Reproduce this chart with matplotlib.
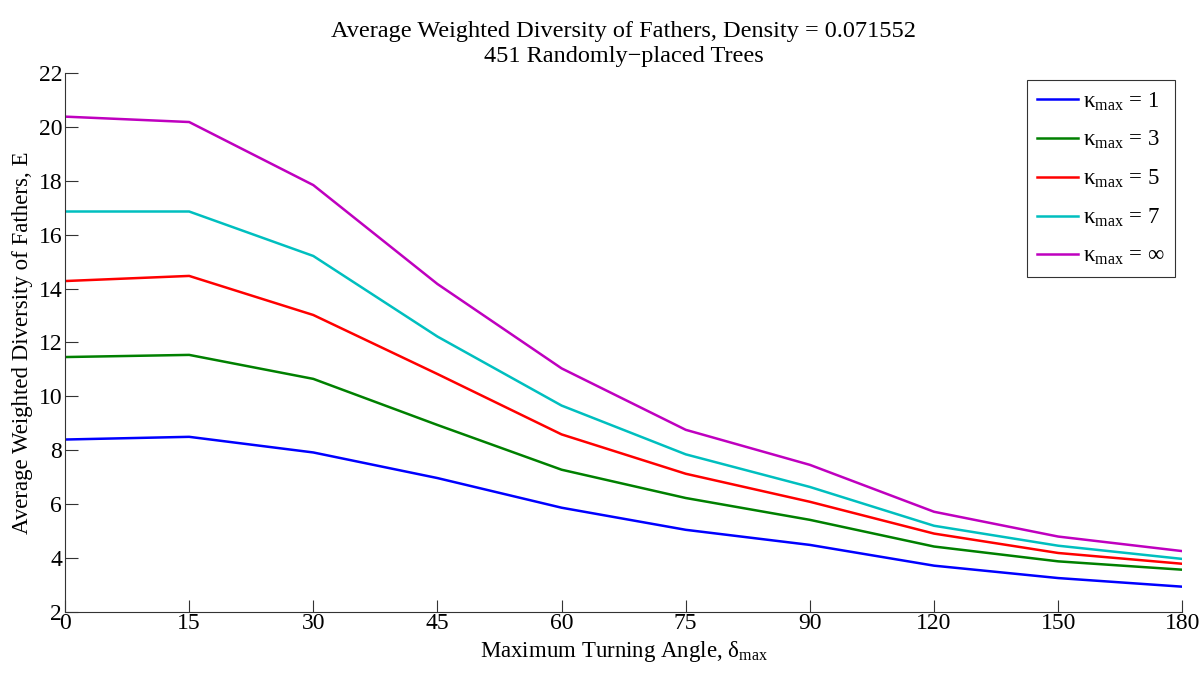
import matplotlib
matplotlib.use("Agg")
import matplotlib.pyplot as plt
import numpy as np

# Dados
angles = [0, 15, 30, 45, 60, 75, 90, 120, 150, 180]
kappa_labels = ["1", "3", "5", "7", "∞"]
e_k1 = [8.40, 8.50, 7.92, 6.97, 5.87, 5.05, 4.49, 3.72, 3.26, 2.94]
e_k3 = [11.46, 11.54, 10.65, 8.94, 7.28, 6.23, 5.42, 4.43, 3.88, 3.57]
e_k5 = [14.28, 14.47, 13.02, 10.83, 8.59, 7.13, 6.09, 4.91, 4.19, 3.79]
e_k7 = [16.86, 16.86, 15.21, 12.22, 9.66, 7.85, 6.64, 5.20, 4.46, 3.97]
e_kinf = [20.38, 20.18, 17.84, 14.17, 11.04, 8.76, 7.46, 5.72, 4.80, 4.26]

series = [e_k1, e_k3, e_k5, e_k7, e_kinf]
colors = ["#0000ff", "#008000", "#ff0000", "#00bfbf", "#bf00bf"]

plt.rcParams["font.family"] = ["Liberation Serif", "DejaVu Serif"]
plt.rcParams["mathtext.fontset"] = "custom"
plt.rcParams["mathtext.rm"] = "Liberation Serif"
plt.rcParams["mathtext.it"] = "Liberation Serif:italic"

fig = plt.figure(figsize=(12.04, 6.75), dpi=100)
ax = fig.add_axes([0.054, 0.0933, 0.928, 0.7986])

x = np.arange(len(angles))
for vals, c, k in zip(series, colors, kappa_labels):
    ax.plot(x, vals, color=c, linewidth=1.8, label="κ$_{\\mathrm{max}}$ = " + k)

ax.set_xlim(0, len(angles) - 1)
ax.set_ylim(2, 22)
ax.set_xticks(x)
ax.set_xticklabels([str(a) for a in angles])
ax.set_yticks(np.arange(2, 23, 2))
ax.tick_params(direction="in", length=9, width=0.8, labelsize=17, colors="#333333", labelcolor="black")
ax.tick_params(axis="x", pad=1)
ax.tick_params(axis="y", pad=2)
ax.spines["top"].set_visible(False)
ax.spines["right"].set_visible(False)
for s in ["left", "bottom"]:
    ax.spines[s].set_color("#333333")
    ax.spines[s].set_linewidth(0.8)

ax.set_xlabel("Maximum Turning Angle, δ$_{\\mathrm{max}}$", fontsize=16.5, labelpad=3)
ax.set_ylabel("Average Weighted Diversity of Fathers, E", fontsize=16.5, labelpad=4)
ax.set_title("Average Weighted Diversity of Fathers, Density = 0.071552\n451 Randomly\u2212placed Trees",
             fontsize=17.5, linespacing=1.25, pad=8)

leg = ax.legend(loc="upper right", fontsize=16.5, frameon=True, fancybox=False,
                edgecolor="black", handlelength=1.75, handletextpad=0.25,
                labelspacing=0.72, borderpad=0.45, borderaxespad=0,
                bbox_to_anchor=(0.9937, 0.987))
leg.get_frame().set_linewidth(0.8)

plt.savefig("out.png", dpi=100)
